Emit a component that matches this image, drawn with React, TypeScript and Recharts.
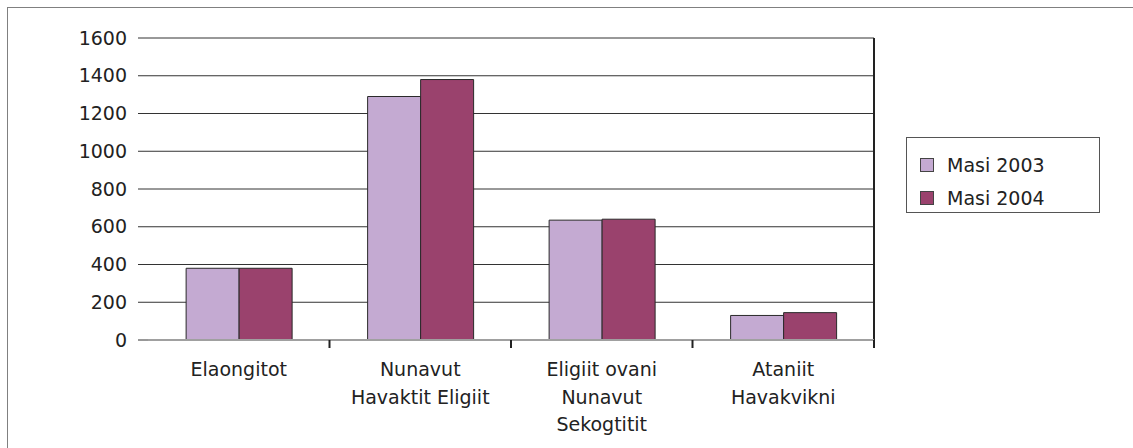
import { BarChart, Bar, XAxis, YAxis, CartesianGrid, Legend } from 'recharts';

const categories = [
  ['Elaongitot'],
  ['Nunavut', 'Havaktit Eligiit'],
  ['Eligiit ovani', 'Nunavut', 'Sekogtitit'],
  ['Ataniit', 'Havakvikni'],
];
const masi2003 = [380, 1290, 635, 130];
const masi2004 = [380, 1380, 640, 145];
const yTicks = [0, 200, 400, 600, 800, 1000, 1200, 1400, 1600];

const COLORS = {
  y2003: '#c4aad2',
  y2004: '#9a426d',
};

const FONT = '"DejaVu Sans", sans-serif';

const data = categories.map((lines, i) => ({
  name: lines.join('\n'),
  m2003: masi2003[i],
  m2004: masi2004[i],
}));

function CategoryTick(props: any) {
  const { x, y, payload, index } = props;
  const half = payload?.offset || 90.75;
  const lines = String(payload.value).split('\n');
  return (
    <g>
      {index > 0 && <line x1={x - half} x2={x - half} y1={y - 8} y2={y} stroke="#222" strokeWidth={2} />}
      {index === categories.length - 1 && (
        <line x1={x + half} x2={x + half} y1={y - 8} y2={y} stroke="#222" strokeWidth={2} />
      )}
      <text x={x} y={y} textAnchor="middle" fill="#222" fontSize={19} fontFamily={FONT}>
        {lines.map((l, i) => (
          <tspan key={i} x={x} dy={i === 0 ? 28 : 27.5}>
            {l}
          </tspan>
        ))}
      </text>
    </g>
  );
}

function LegendBox({ payload }: any) {
  return (
    <div
      style={{
        border: '1px solid #555',
        width: 194,
        height: 76,
        boxSizing: 'border-box',
        paddingTop: 10,
        paddingLeft: 13,
        background: '#fff',
      }}
    >
      {(payload || []).map((entry: any) => (
        <div key={entry.value} style={{ display: 'flex', alignItems: 'center', height: 33 }}>
          <span
            style={{
              width: 14,
              height: 14,
              background: entry.color,
              border: '1px solid #444',
              boxSizing: 'border-box',
              marginRight: 13,
            }}
          />
          <span style={{ fontFamily: FONT, fontSize: 19, color: '#222' }}>{entry.value}</span>
        </div>
      ))}
    </div>
  );
}

export default function App() {
  return (
    <div style={{ position: 'absolute', left: 0, top: 0, width: 1133, height: 448, background: '#fff' }}>
      <div
        style={{
          position: 'absolute',
          left: 7,
          top: 7,
          right: 0,
          bottom: 0,
          borderTop: '1px solid #808080',
          borderLeft: '1px solid #808080',
        }}
      />
      <div style={{ position: 'absolute', left: 0, top: 0 }}>
        <BarChart
          width={1133}
          height={448}
          data={data}
          margin={{ top: 38, right: 65, bottom: 8, left: 0 }}
          barCategoryGap="21%"
          barGap={0}
        >
          <CartesianGrid vertical={false} stroke="#333" strokeWidth={1} />
          <CartesianGrid
            horizontal={false}
            stroke="#222"
            strokeWidth={2}
            verticalCoordinatesGenerator={({ offset }: any) => [offset.left + offset.width]}
          />
          <XAxis
            dataKey="name"
            height={100}
            interval={0}
            tickSize={8}
            tickMargin={0}
            tickLine={false}
            axisLine={{ stroke: '#a0a0a0', strokeWidth: 2 }}
            tick={<CategoryTick />}
          />
          <YAxis
            width={148}
            domain={[0, 1600]}
            ticks={yTicks}
            interval={0}
            axisLine={false}
            tickSize={10}
            tickMargin={11}
            tickLine={{ stroke: '#333' }}
            tick={{ fill: '#222', fontSize: 19, fontFamily: FONT }}
          />
          <Legend
            layout="vertical"
            align="right"
            verticalAlign="middle"
            content={<LegendBox />}
            wrapperStyle={{ left: 906, top: 137, width: 194, height: 76 }}
          />
          <Bar dataKey="m2003" name="Masi 2003" fill={COLORS.y2003} stroke="#2a2a2a" strokeWidth={1} isAnimationActive={false} />
          <Bar dataKey="m2004" name="Masi 2004" fill={COLORS.y2004} stroke="#2a2a2a" strokeWidth={1} isAnimationActive={false} />
        </BarChart>
      </div>
    </div>
  );
}
